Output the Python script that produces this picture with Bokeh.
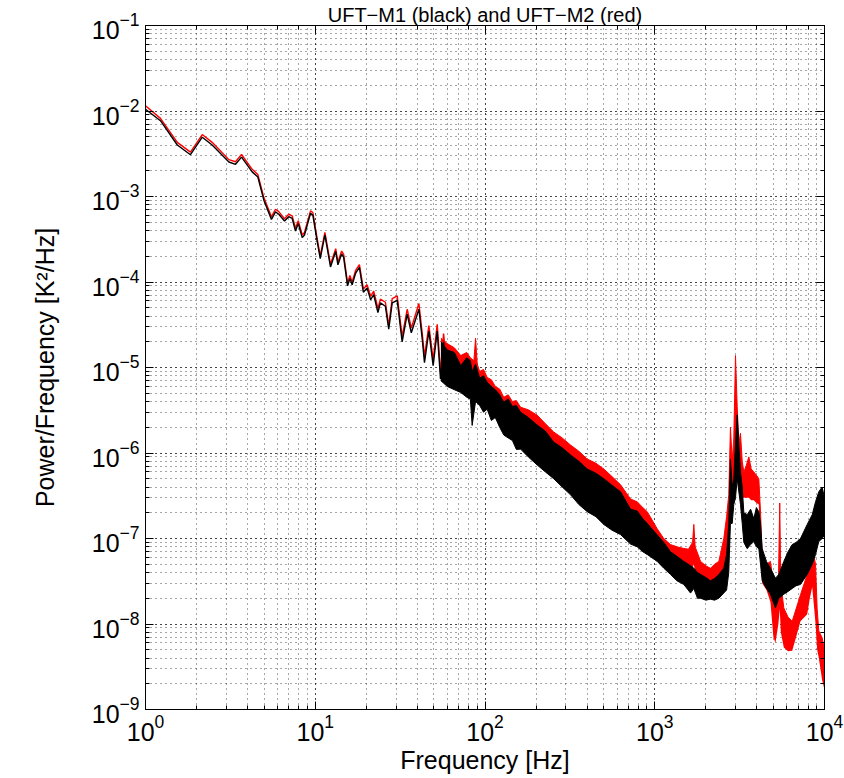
from bokeh.plotting import figure
from bokeh.models import LogAxis, Range1d
from bokeh.embed import file_html
from bokeh.resources import INLINE

# ---- low-frequency part (single traces), Hz and K^2/Hz ----
f_low = [1.00, 1.225, 1.54, 1.84, 2.16, 2.47, 3.10, 3.39, 3.68, 4.25,
         4.59, 4.98, 5.52, 5.83, 6.10, 6.59, 6.98, 7.31, 7.65, 7.94,
         8.38, 8.64, 9.38, 9.68, 10.27, 10.7, 11.4, 12.3, 13.2, 13.6,
         14.3, 14.7, 15.5, 16.0, 16.5, 17.3, 18.2, 19.2, 20.2, 21.2,
         22.1, 23.4, 24.2, 25.9, 27.1, 28.4, 30.4, 32.5, 34.8, 36.8,
         39.0, 40.8, 42.7, 44.0, 46.7, 49.5, 52.3, 54.7, 57.0, 59.9]
m1_low = [1.05e-2, 7.7e-3, 4.0e-3, 3.08e-3, 4.94e-3, 4.0e-3, 2.53e-3, 2.38e-3, 2.89e-3, 1.94e-3,
          1.69e-3, 9.06e-4, 5.4e-4, 6.6e-4, 6.2e-4, 5.16e-4, 5.8e-4, 5.55e-4, 3.95e-4, 4.85e-4,
          3.3e-4, 3.55e-4, 6.34e-4, 6.06e-4, 2.97e-4, 1.88e-4, 3.55e-4, 1.5e-4, 2.28e-4, 1.59e-4,
          2.13e-4, 1.94e-4, 9.0e-5, 1.1e-4, 9.3e-5, 1.27e-4, 1.48e-4, 7.6e-5, 8.5e-5, 6.2e-5,
          7.1e-5, 4.4e-5, 5.7e-5, 5.2e-5, 2.8e-5, 5.7e-5, 6.1e-5, 2.0e-5, 4.2e-5, 2.55e-5,
          3.65e-5, 4.8e-5, 2.14e-5, 1.14e-5, 2.67e-5, 1.05e-5, 2.67e-5, 7.3e-6, 2.0e-5, 8.0e-6]
m2_low = [1.15e-2, 8.2e-3, 4.3e-3, 3.3e-3, 5.3e-3, 4.3e-3, 2.7e-3, 2.55e-3, 3.1e-3, 2.08e-3,
          1.81e-3, 9.7e-4, 5.8e-4, 7.1e-4, 6.65e-4, 5.5e-4, 6.2e-4, 5.95e-4, 4.25e-4, 5.2e-4,
          3.55e-4, 3.8e-4, 6.8e-4, 6.5e-4, 3.2e-4, 2.02e-4, 3.8e-4, 1.61e-4, 2.45e-4, 1.71e-4,
          2.3e-4, 2.1e-4, 9.7e-5, 1.19e-4, 1.0e-4, 1.37e-4, 1.6e-4, 8.3e-5, 9.3e-5, 6.8e-5,
          7.8e-5, 4.9e-5, 6.3e-5, 5.8e-5, 3.1e-5, 6.4e-5, 6.9e-5, 2.3e-5, 4.8e-5, 2.9e-5,
          4.2e-5, 5.6e-5, 2.5e-5, 1.35e-5, 3.1e-5, 1.25e-5, 3.2e-5, 8.8e-6, 2.5e-5, 1.0e-5]

# ---- noisy part: envelope of UFT-M1 (black) ----
f_m1 = [55, 60, 66, 72, 78, 82, 84, 88, 93, 98,
        103, 109, 115, 122, 129, 137, 145, 153, 162, 180,
        203, 227, 254, 285, 319, 357, 400, 450, 501, 560,
        629, 720, 788, 850, 903, 1034, 1130, 1238, 1350, 1483,
        1625, 1699, 1785, 1862, 2000, 2130, 2250, 2385, 2551, 2650,
        2729, 2792, 2860, 2922, 2990, 3060, 3130, 3200, 3275, 3349,
        3505, 3670, 3834, 3970, 4103, 4200, 4296, 4552, 4805, 5142,
        5379, 5758, 6100, 6452, 6800, 7220, 7908, 8466, 8856, 9257,
        9685, 10000]
m1_hi = [2.0e-5, 1.6e-5, 1.5e-5, 1.05e-5, 1.3e-5, 1.2e-5, 9e-6, 1.1e-5, 7.5e-6, 8.0e-6,
         6.7e-6, 6.0e-6, 5.5e-6, 4.8e-6, 3.92e-6, 4.3e-6, 3.5e-6, 3.6e-6, 3.0e-6, 2.6e-6,
         2.12e-6, 1.8e-6, 1.34e-6, 1.15e-6, 9.5e-7, 8.0e-7, 6.5e-7, 5.8e-7, 5.0e-7, 4.2e-7,
         3.52e-7, 2.2e-7, 2.1e-7, 1.7e-7, 1.5e-7, 1.1e-7, 9.0e-8, 7.0e-8, 6.2e-8, 5.4e-8,
         4.8e-8, 4.5e-8, 4.0e-8, 3.8e-8, 3.5e-8, 3.2e-8, 3.4e-8, 3.8e-8, 4.5e-8, 6.5e-8,
         1.5e-7, 8.5e-7, 4.0e-7, 5.0e-7, 1.3e-6, 2.8e-6, 1.2e-6, 6.0e-7, 4.0e-7, 2.0e-7,
         1.9e-7, 2.2e-7, 1.71e-7, 2.3e-7, 2.06e-7, 1.5e-7, 7.6e-8, 5.4e-8, 4.48e-8, 3.43e-8,
         3.8e-8, 5.4e-8, 7.0e-8, 8.5e-8, 9.0e-8, 1.0e-7, 1.46e-7, 1.9e-7, 2.69e-7, 3.52e-7,
         4.0e-7, 3.0e-7]
m1_lo = [7e-6, 6e-6, 5.5e-6, 5.1e-6, 4.5e-6, 4.25e-6, 2.1e-6, 4.0e-6, 3.6e-6, 3.0e-6,
         3.25e-6, 2.4e-6, 2.6e-6, 2.0e-6, 1.62e-6, 1.5e-6, 1.4e-6, 1.1e-6, 1.11e-6, 9.0e-7,
         7.24e-7, 6.0e-7, 5.0e-7, 4.0e-7, 3.25e-7, 2.5e-7, 2.06e-7, 1.8e-7, 1.46e-7, 1.25e-7,
         1.11e-7, 8.6e-8, 8.0e-8, 7.0e-8, 6.5e-8, 5.4e-8, 4.5e-8, 3.8e-8, 3.2e-8, 2.9e-8,
         2.3e-8, 2.6e-8, 2.0e-8, 2.0e-8, 1.9e-8, 1.95e-8, 1.9e-8, 2.0e-8, 2.3e-8, 2.5e-8,
         4e-8, 1.5e-7, 1.5e-7, 2.5e-7, 3.0e-7, 5.0e-7, 3.5e-7, 2.5e-7, 1.5e-7, 9.0e-8,
         7.6e-8, 8.5e-8, 9.2e-8, 8.0e-8, 7.6e-8, 5e-8, 3.2e-8, 2.6e-8, 2.23e-8, 1.54e-8,
         2.0e-8, 2.23e-8, 2.4e-8, 2.6e-8, 2.8e-8, 2.9e-8, 3.8e-8, 5.0e-8, 6.5e-8, 9.2e-8,
         1.0e-7, 1.1e-7]

# ---- noisy part: envelope of UFT-M2 (red) ----
f_m2 = [55, 60, 66, 72, 78, 82, 86, 88, 90, 93,
        98, 103, 109, 115, 122, 129, 137, 145, 153, 162,
        180, 203, 227, 254, 285, 319, 357, 400, 450, 501,
        560, 629, 720, 788, 850, 903, 1034, 1130, 1238, 1350,
        1483, 1580, 1670, 1699, 1730, 1862, 2000, 2130, 2250, 2385,
        2551, 2650, 2729, 2792, 2860, 2922, 2990, 3060, 3130, 3200,
        3275, 3349, 3450, 3583, 3700, 3834, 3970, 4103, 4200, 4296,
        4552, 4805, 5000, 5142, 5350, 5450, 5530, 5758, 6100, 6452,
        6800, 7220, 7908, 8200, 8466, 8700, 8856, 9050, 9257, 9685,
        10000]
m2_hi = [2.2e-5, 1.9e-5, 1.7e-5, 1.38e-5, 1.5e-5, 1.3e-5, 1.2e-5, 2.2e-5, 1.1e-5, 9.0e-6,
         9.5e-6, 7.65e-6, 7.2e-6, 6.0e-6, 5.6e-6, 4.48e-6, 4.8e-6, 4.0e-6, 4.1e-6, 3.43e-6,
         3.2e-6, 2.77e-6, 2.2e-6, 1.76e-6, 1.5e-6, 1.24e-6, 1.05e-6, 8.5e-7, 7.6e-7, 6.5e-7,
         5.3e-7, 4.25e-7, 2.9e-7, 2.69e-7, 2.3e-7, 2.06e-7, 1.3e-7, 1.0e-7, 8.5e-8, 8.0e-8,
         7.65e-8, 7.5e-8, 9.0e-8, 1.46e-7, 8.0e-8, 5.4e-8, 4.8e-8, 4.48e-8, 5.0e-8, 5.4e-8,
         1.0e-7, 1.8e-7, 3.25e-7, 2.0e-6, 8.0e-7, 1.5e-6, 1.38e-5, 3.5e-6, 1.3e-6, 1.7e-6,
         8.0e-7, 6.0e-7, 7.0e-7, 9.0e-7, 6.5e-7, 6.0e-7, 5.5e-7, 5.0e-7, 2.0e-7, 6.0e-8,
         5.0e-8, 5.4e-8, 3.0e-8, 2.5e-8, 3e-8, 2.6e-7, 3.0e-8, 1.54e-8, 1.2e-8, 1.08e-8,
         1.5e-8, 2.2e-8, 3.8e-8, 5.0e-8, 7.0e-8, 6.0e-8, 5.0e-8, 1.5e-8, 8.3e-9, 6.9e-9,
         5.0e-9]
m2_lo = [8e-6, 7e-6, 6e-6, 5.5e-6, 5e-6, 4.5e-6, 4.5e-6, 4.5e-6, 4e-6, 3.8e-6,
         3.3e-6, 3.3e-6, 2.8e-6, 2.6e-6, 2.2e-6, 1.8e-6, 1.6e-6, 1.5e-6, 1.3e-6, 1.2e-6,
         1.0e-6, 8.5e-7, 7e-7, 6e-7, 5e-7, 4e-7, 3.3e-7, 2.8e-7, 2.4e-7, 2.0e-7,
         1.7e-7, 1.5e-7, 1.2e-7, 1.1e-7, 1.0e-7, 9e-8, 7e-8, 6e-8, 5e-8, 4.5e-8,
         4e-8, 4e-8, 4.5e-8, 5e-8, 4e-8, 3e-8, 2.8e-8, 2.6e-8, 2.7e-8, 2.8e-8,
         3.5e-8, 5e-8, 8e-8, 2e-7, 2e-7, 3e-7, 5e-7, 5e-7, 4e-7, 3.5e-7,
         3e-7, 3e-7, 3e-7, 3e-7, 2.8e-7, 2.8e-7, 2.6e-7, 2.5e-7, 6e-8, 3e-8,
         2.5e-8, 1.8e-8, 7e-9, 6e-9, 1e-8, 1.5e-8, 8e-9, 5.3e-9, 4.8e-9, 4.85e-9,
         7e-9, 1.08e-8, 1.3e-8, 2e-8, 2.7e-8, 1.5e-8, 1.0e-8, 5e-9, 4e-9, 2.2e-9,
         1.7e-9]

TITLE = "UFT\u2212M1 (black) and UFT\u2212M2 (red)"
XLABEL = "Frequency [Hz]"
YLABEL = "Power/Frequency [K\u00b2/Hz]"

FONT = "Liberation Sans"
FS = "25px"

p = figure(width=844, height=778, x_axis_type="log", y_axis_type="log",
           x_range=Range1d(1, 1e4), y_range=Range1d(1e-9, 1e-1),
           output_backend="svg", toolbar_location=None,
           min_border_left=145, min_border_right=20,
           min_border_top=21, min_border_bottom=69)
p.background_fill_color = "white"
p.border_fill_color = "white"
p.outline_line_color = "black"
p.outline_line_width = 1

# grid (dotted, major + minor)
for g in (p.xgrid, p.ygrid):
    g.grid_line_color = "black"
    g.grid_line_alpha = 0.7
    g.grid_line_dash = "1 4"
    g.grid_line_width = 1
    g.minor_grid_line_color = "black"
    g.minor_grid_line_alpha = 0.7
    g.minor_grid_line_dash = "1 4"
    g.minor_grid_line_width = 1

# data
p.varea(x=f_m2, y1=m2_lo, y2=m2_hi, fill_color="#ff0000")
p.line(f_m2, m2_hi, line_color="#ff0000", line_width=1)
p.line(f_low, m2_low, line_color="#ff0000", line_width=1.4)
p.varea(x=f_m1, y1=m1_lo, y2=m1_hi, fill_color="#000000")
p.line(f_m1, m1_hi, line_color="#000000", line_width=1)
p.line(f_m1, m1_lo, line_color="#000000", line_width=1)
p.line(f_low, m1_low, line_color="#000000", line_width=1.4)

def style_axis(ax, labels=True):
    ax.axis_line_color = "black"
    ax.major_tick_line_color = "black"
    ax.minor_tick_line_color = "black"
    ax.major_tick_in = 8
    ax.major_tick_out = 0
    ax.minor_tick_in = 4
    ax.minor_tick_out = 0
    if labels:
        ax.major_label_text_font = FONT
        ax.major_label_text_font_size = FS
        ax.major_label_text_color = "black"
        ax.axis_label_text_font = FONT
        ax.axis_label_text_font_size = FS
        ax.axis_label_text_font_style = "normal"
        ax.axis_label_text_color = "black"
    else:
        ax.major_label_text_font_size = "1px"
        ax.major_label_text_alpha = 0
        ax.major_label_standoff = 0

xa = p.xaxis[0]
ya = p.yaxis[0]
style_axis(xa)
style_axis(ya)
xa.axis_label = XLABEL
ya.axis_label = YLABEL
xa.major_label_standoff = 4
xa.axis_label_standoff = 2
ya.major_label_standoff = 6
ya.axis_label_standoff = 30

# top axis carries the title as its axis label
top = LogAxis()
style_axis(top, labels=False)
top.axis_label = TITLE
top.axis_label_text_font = FONT
top.axis_label_text_font_size = "20px"
top.axis_label_text_font_style = "normal"
top.axis_label_text_color = "black"
top.axis_label_standoff = 0
right = LogAxis()
style_axis(right, labels=False)
p.add_layout(top, "above")
p.add_layout(right, "right")

open("out.html", "w").write(file_html(p, INLINE))
